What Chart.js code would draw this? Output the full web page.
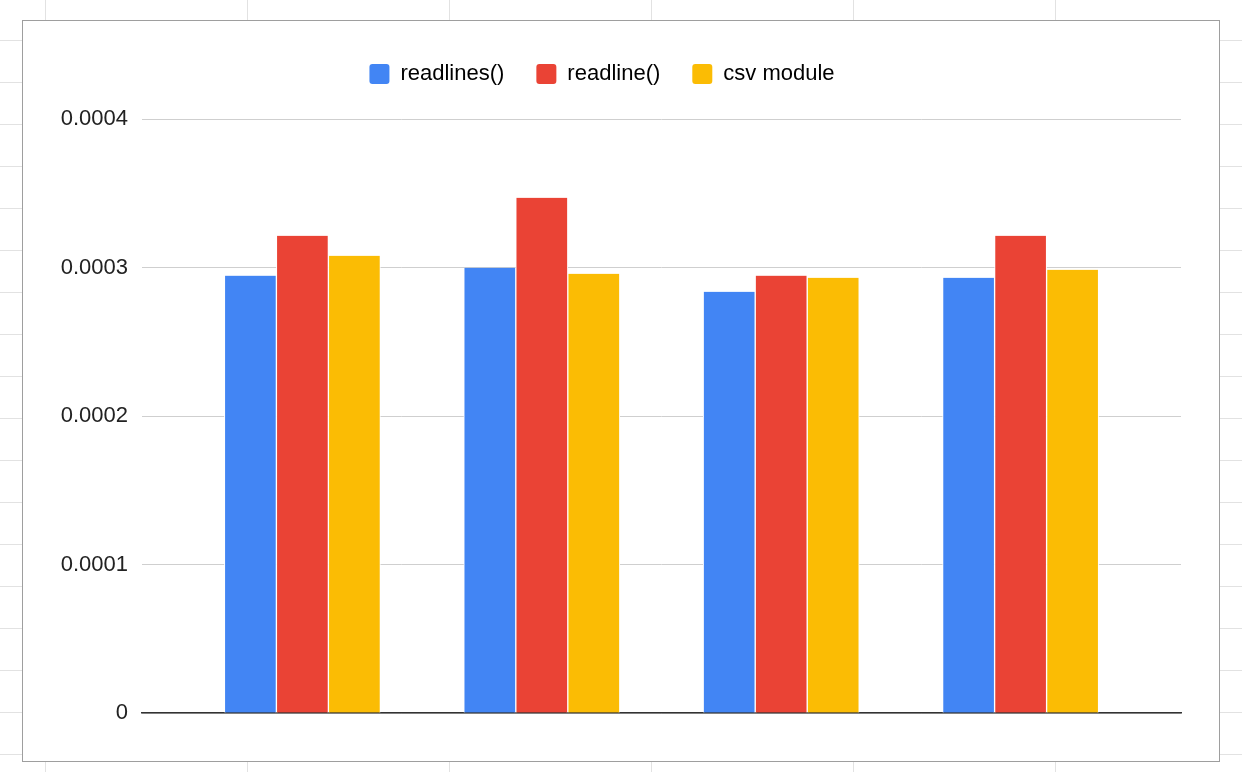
<!DOCTYPE html>
<html><head><meta charset="utf-8">
<script src="https://cdn.jsdelivr.net/npm/chart.js@4"></script>
<style>
html,body{margin:0;padding:0;width:1242px;height:772px;overflow:hidden;
background-color:#fff;
background-image:linear-gradient(to right,#e2e2e2 1px,transparent 1px),linear-gradient(to bottom,#e2e2e2 1px,transparent 1px);
background-size:202px 42px;background-position:45px 40px;}
#frame{position:absolute;left:22px;top:20px;width:1196px;height:740px;border:1px solid #9e9e9e;background:#fff;}
canvas{display:block;}
</style></head><body>
<div id="frame"><canvas id="c" width="1196" height="740"></canvas></div>
<script>
const categories = ['1','2','3','4'];
const seriesNames = ['readlines()','readline()','csv module'];
const readlinesVals = [0.0002945,0.0002998,0.0002837,0.0002931];
const readlineVals  = [0.0003213,0.0003469,0.0002945,0.0003213];
const csvVals       = [0.0003079,0.0002958,0.0002931,0.0002985];
const yTicks = [0,0.0001,0.0002,0.0003,0.0004];
const colors = ['#4285F4','#EA4335','#FBBC04'];
const toPts = arr => arr.map((v,i)=>({x:i,y:v}));
const legendSpace = {id:'legendSpace',beforeInit(chart){const f=chart.legend.fit;chart.legend.fit=function(){f.call(this);this.height+=24;};}};
const ds = (i,arr)=>({label:seriesNames[i],data:toPts(arr),backgroundColor:colors[i],
  borderColor:'#ffffff',borderWidth:{left:1,right:1,top:0,bottom:0},borderSkipped:false});
new Chart(document.getElementById('c'),{
 type:'bar',
 data:{datasets:[ds(0,readlinesVals),ds(1,readlineVals),ds(2,csvVals)]},
 plugins:[legendSpace],
 options:{responsive:false,animation:false,
  layout:{padding:{left:0,right:38,top:10,bottom:48}},
  datasets:{bar:{barThickness:52}},
  plugins:{tooltip:{enabled:false},
   legend:{position:'top',labels:{font:{family:'Liberation Sans',size:22},color:'#222',boxWidth:20,boxHeight:20,padding:32,useBorderRadius:true,borderRadius:3,
     generateLabels:ch=>ch.data.datasets.map((d,i)=>({text:d.label,fillStyle:d.backgroundColor,strokeStyle:d.backgroundColor,lineWidth:0,datasetIndex:i,borderRadius:3}))},
    onClick:null}},
  scales:{
   x:{type:'linear',min:-0.67,max:3.67,offset:false,grid:{display:false},ticks:{display:false},
      border:{color:'#333',width:1.5},afterFit:s=>{s.height=0;}},
   y:{min:0,max:0.0004,afterBuildTicks:s=>{s.ticks=yTicks.map(v=>({value:v}));},
      ticks:{font:{family:'Liberation Sans',size:22},color:'#222',padding:14,callback:v=>v===0?'0':v.toFixed(4)},
      grid:{color:'#cfcfcf',drawTicks:false},border:{display:false},
      afterFit:s=>{s.width=119;}}
  }}
});
</script></body></html>
